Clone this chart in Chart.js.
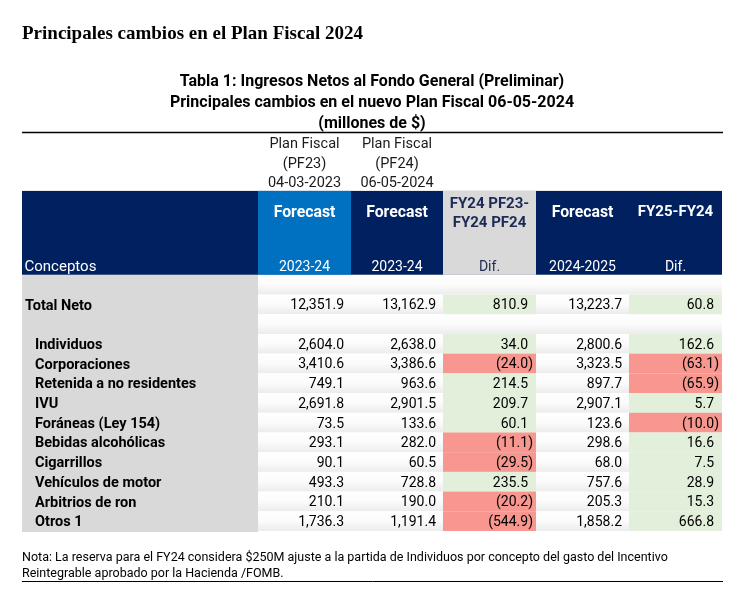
<!DOCTYPE html>
<html>
<head>
<meta charset="utf-8">
<script src="https://cdn.jsdelivr.net/npm/chart.js@4"></script>
<style>
  html, body { margin: 0; padding: 0; background: #ffffff; }
  canvas { display: block; }
</style>
</head>
<body>
<canvas id="c" width="748" height="598"></canvas>
<script>
// ---------- DATA ----------
const categories = ['Total Neto', 'Individuos', 'Corporaciones', 'Retenida a no residentes', 'IVU',
  'Foráneas (Ley 154)', 'Bebidas alcohólicas', 'Cigarrillos', 'Vehículos de motor', 'Arbitrios de ron', 'Otros 1'];
const forecastPF23 = [12351.9, 2604.0, 3410.6, 749.1, 2691.8, 73.5, 293.1, 90.1, 493.3, 210.1, 1736.3];
const forecastPF24 = [13162.9, 2638.0, 3386.6, 963.6, 2901.5, 133.6, 282.0, 60.5, 728.8, 190.0, 1191.4];
const difFY24 = [810.9, 34.0, -24.0, 214.5, 209.7, 60.1, -11.1, -29.5, 235.5, -20.2, -544.9];
const forecast2425 = [13223.7, 2800.6, 3323.5, 897.7, 2907.1, 123.6, 298.6, 68.0, 757.6, 205.3, 1858.2];
const difFY25 = [60.8, 162.6, -63.1, -65.9, 5.7, -10.0, 16.6, 7.5, 28.9, 15.3, 666.8];

const mainTitle = 'Principales cambios en el Plan Fiscal 2024';
const tableTitle = ['Tabla 1: Ingresos Netos al Fondo General (Preliminar)',
  'Principales cambios en el nuevo Plan Fiscal 06-05-2024', '(millones de $)'];
const planHeaders = [null, ['Plan Fiscal', '(PF23)', '04-03-2023'], ['Plan Fiscal', '(PF24)', '06-05-2024'], null, null, null];
const headTop = ['', 'Forecast', 'Forecast', 'FY24 PF23-\nFY24 PF24', 'Forecast', 'FY25-FY24'];
const headBottom = ['Conceptos', '2023-24', '2023-24', 'Dif.', '2024-2025', 'Dif.'];
const noteLines = ['Nota: La reserva para el FY24 considera $250M ajuste a la partida de Individuos por concepto del gasto del Incentivo',
  'Reintegrable aprobado por la Hacienda /FOMB.'];

// ---------- LAYOUT (table units) ----------
const colWidths = [236, 93, 92, 93, 93, 93].map(w => w / 93);
const colEdges = colWidths.reduce((a, w) => { a.push(a[a.length - 1] + w); return a; }, [0]);
const dataColumns = [forecastPF23, forecastPF24, difFY24, forecast2425, difFY25];
const isDiff = [false, false, true, false, true];
// body row index for each category (rows 0 and 2 are blank spacer rows)
const rowOf = categories.map((c, i) => i === 0 ? 1 : i + 2);
const bodyRows = 13;

const NAVY = '#002060', BLUE = '#0070c0', GREY = '#d9d9d9', GREEN = '#e2efda', RED = '#f7978f', DARKTXT = '#1c2a55';
const FONT = 'Roboto, "Liberation Sans", Arial, sans-serif';
const CAP = 0.711; // Roboto cap height / em

function fmt(v) {
  const s = Math.abs(v).toLocaleString('en-US', { minimumFractionDigits: 1, maximumFractionDigits: 1 });
  return v < 0 ? '(' + s + ')' : s;
}

const tablePlugin = {
  id: 'tableDraw',
  beforeDatasetsDraw(chart) {
    const ctx = chart.ctx;
    const xs = chart.scales.x, ys = chart.scales.y;
    const X = v => xs.getPixelForValue(v);
    const Y = v => ys.getPixelForValue(v);
    // draws text whose cap-height centre sits on y
    const text = (s, x, y, size, weight, color, align, maxW) => {
      ctx.save();
      ctx.font = weight + ' ' + size + 'px ' + FONT;
      ctx.fillStyle = color; ctx.textAlign = align || 'left'; ctx.textBaseline = 'alphabetic';
      const yb = y + CAP * size / 2;
      if (maxW) ctx.fillText(s, x, yb, maxW); else ctx.fillText(s, x, yb);
      ctx.restore();
    };
    const L = X(0), R = X(colEdges[colEdges.length - 1]);

    // table title (above chart area)
    const tcx = (L + R) / 2;
    const ttY = [-9.85, -8.80, -7.76];
    tableTitle.forEach((t, i) => text(t, tcx, Y(ttY[i]), 16, 'bold', '#000', 'center'));

    // top rule
    ctx.save(); ctx.strokeStyle = '#000'; ctx.lineWidth = 1.3;
    const ty = Math.round(Y(-7.25)) + 0.5;
    ctx.beginPath(); ctx.moveTo(L, ty); ctx.lineTo(R + 1, ty); ctx.stroke(); ctx.restore();

    // Plan fiscal headers
    const phY = [-6.70, -5.66, -4.71];
    planHeaders.forEach((lines, c) => {
      if (!lines) return;
      const cx = X((colEdges[c] + colEdges[c + 1]) / 2);
      lines.forEach((l, i) => text(l, cx, Y(phY[i]), 14.5, 'normal', '#1a1a1a', 'center'));
    });

    // header band
    const hTop = Y(-4.26), hBot = Y(0);
    ctx.fillStyle = NAVY; ctx.fillRect(L, hTop, R - L, hBot - hTop);
    ctx.fillStyle = BLUE; ctx.fillRect(X(colEdges[1]), hTop, X(colEdges[2]) - X(colEdges[1]), hBot - hTop);
    ctx.fillStyle = GREY; ctx.fillRect(X(colEdges[3]), hTop, X(colEdges[4]) - X(colEdges[3]), hBot - hTop);

    headTop.forEach((h, c) => {
      if (!h) return;
      const cx = X((colEdges[c] + colEdges[c + 1]) / 2);
      const col = c === 3 ? DARKTXT : '#ffffff';
      const parts = h.split('\n');
      if (parts.length === 1) text(h, cx, Y(-3.24), h === 'Forecast' ? 15.8 : 15, 'bold', col, 'center');
      else { text(parts[0], cx, Y(-3.67), 15, 'bold', col, 'center'); text(parts[1], cx, Y(-2.71), 15, 'bold', col, 'center'); }
    });
    headBottom.forEach((h, c) => {
      const col = c === 3 ? DARKTXT : '#ffffff';
      if (c === 0) text(h, L + 2.5, Y(-0.46), 15, 'normal', col, 'left');
      else text(h, X((colEdges[c] + colEdges[c + 1]) / 2), Y(-0.46), 14, 'normal', col, 'center');
    });

    // concept column
    ctx.fillStyle = GREY; ctx.fillRect(L, Y(0), X(colEdges[1]) - L, Y(bodyRows + 0.05) - Y(0));

    // body cells background (soft gradient per row)
    for (let r = 0; r < bodyRows; r++) {
      const t = Y(r), b = Y(r + 1);
      const g = ctx.createLinearGradient(0, t, 0, b);
      g.addColorStop(0, '#ffffff'); g.addColorStop(0.5, '#fbfbfb'); g.addColorStop(1, '#ececec');
      ctx.fillStyle = g;
      ctx.fillRect(X(colEdges[1]), t, R - X(colEdges[1]), b - t);
    }
    // coloured diff cells
    dataColumns.forEach((vals, k) => {
      if (!isDiff[k]) return;
      const c = k + 1;
      vals.forEach((v, i) => {
        const r = rowOf[i];
        ctx.fillStyle = v < 0 ? RED : GREEN;
        ctx.fillRect(X(colEdges[c]), Y(r), X(colEdges[c + 1]) - X(colEdges[c]), Y(r + 1) - Y(r));
      });
    });

    // labels and values
    categories.forEach((cat, i) => {
      const r = rowOf[i], cy = Y(r + 0.5);
      text(cat, i === 0 ? L + 3 : L + 13, cy, 14.5, 'bold', '#000', 'left');
      dataColumns.forEach((vals, k) => {
        const c = k + 1, v = vals[i];
        const right = X(colEdges[c + 1]);
        let xr;
        if (isDiff[k]) xr = v < 0 ? right - 3 : right - 8; else xr = right - 7;
        text(fmt(v), xr, cy, 14, 'normal', '#000', 'right');
      });
    });

    // notes
    ctx.save(); ctx.font = '12.5px ' + FONT;
    const w1 = ctx.measureText(noteLines[0]).width; ctx.restore();
    const squeeze = Math.min(1, 646 / w1);
    const nY = [14.30, 15.13];
    noteLines.forEach((n, i) => {
      ctx.save(); ctx.font = '12.5px ' + FONT;
      const w = ctx.measureText(n).width; ctx.restore();
      text(n, L, Y(nY[i]), 12.5, 'normal', '#000', 'left', w * squeeze);
    });
    ctx.save(); ctx.strokeStyle = '#000'; ctx.lineWidth = 1;
    const ry = Math.round(Y(15.53)) + 0.5;
    ctx.beginPath(); ctx.moveTo(L, ry); ctx.lineTo(R + 1, ry); ctx.stroke(); ctx.restore();
  }
};

new Chart(document.getElementById('c'), {
  type: 'scatter',
  data: { datasets: [] },
  options: {
    responsive: false,
    devicePixelRatio: 1,
    animation: false,
    layout: { padding: { left: 22, right: 26, top: 0, bottom: 67 } },
    plugins: {
      legend: { display: false },
      tooltip: { enabled: false },
      title: {
        display: true, text: mainTitle, align: 'start', color: '#000',
        font: { family: '"Liberation Serif", "Times New Roman", serif', size: 19, weight: 'bold', lineHeight: 1.2 },
        padding: { top: 22.4, bottom: 86.8 }
      }
    },
    scales: {
      x: { type: 'linear', display: false, min: 0, max: colEdges[colEdges.length - 1] },
      y: { type: 'linear', display: false, reverse: true, min: -7.25, max: 13 }
    }
  },
  plugins: [tablePlugin]
});
</script>
</body>
</html>
